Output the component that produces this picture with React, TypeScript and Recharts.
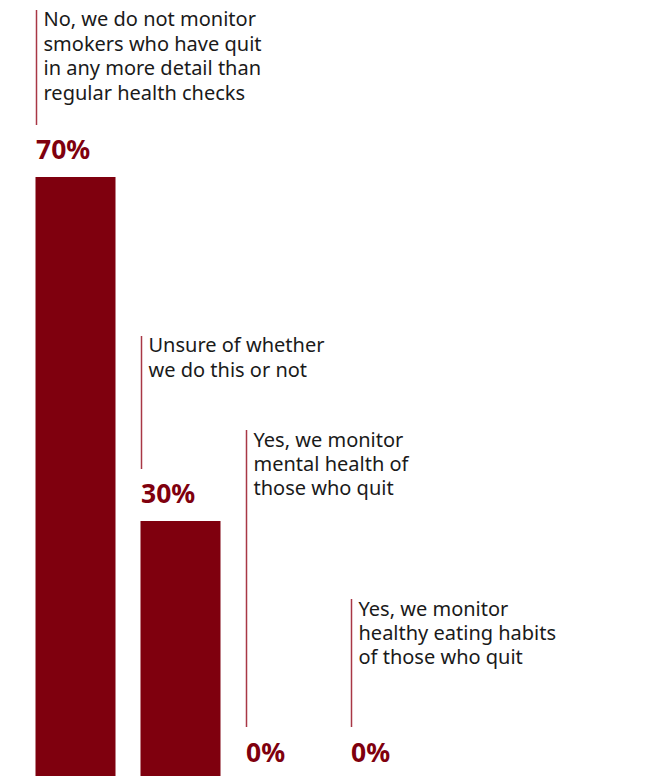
import { Bar, ComposedChart, Line, XAxis, YAxis } from 'recharts';

const answerLines = [
  ['No, we do not monitor', 'smokers who have quit', 'in any more detail than', 'regular health checks'],
  ['Unsure of whether', 'we do this or not'],
  ['Yes, we monitor', 'mental health of', 'those who quit'],
  ['Yes, we monitor', 'healthy eating habits', 'of those who quit'],
];
const shares = [70, 30, 0, 0];
const shareLabels = ['70%', '30%', '0%', '0%'];

// layout only: length of the thin rule that runs up beside each answer text
const ruleLengths = [115, 133, 297, 128];

const data = shares.map((share, i) => ({ idx: i, share }));

const RED = '#7f000e';
const BAR_W = 80;

// drawn as the "dot" of an invisible line so zero-value bars still get a callout
function Callout(props: any) {
  const { cx, cy, index } = props;
  if (cx == null || cy == null) return null;
  const x = cx - BAR_W / 2;
  const y = cy;
  const lx = x + 1.5;
  const bottom = y - 52;
  const top = bottom - ruleLengths[index];
  return (
    <g key={index}>
      <line x1={lx} x2={lx} y1={top} y2={bottom} stroke="#a83745" strokeWidth={1.5} />
      <text x={x + 8.5} y={top + 16.5} fontSize={20} fill="#1a1a1a" fontFamily="Noto Sans">
        {answerLines[index].map((t, k) => (
          <tspan key={k} x={x + 8.5} dy={k === 0 ? 0 : 24.4}>
            {t}
          </tspan>
        ))}
      </text>
      <text x={x + 1} y={y - 17.5} fontSize={26.5} fontWeight={700} fill={RED} fontFamily="Noto Sans">
        {shareLabels[index]}
      </text>
    </g>
  );
}

export default function App() {
  return (
    <div style={{ position: 'absolute', top: 0, left: 0 }}>
      <ComposedChart
        width={671}
        height={779}
        data={data}
        margin={{ top: 0, right: 228.5, left: 22.5, bottom: 0 }}
      >
        <XAxis dataKey="idx" type="category" hide />
        <YAxis hide domain={[0, 90.58]} />
        <Bar dataKey="share" fill={RED} barSize={BAR_W} isAnimationActive={false} />
        <Line
          dataKey="share"
          stroke="none"
          dot={<Callout />}
          activeDot={false}
          isAnimationActive={false}
        />
      </ComposedChart>
    </div>
  );
}
